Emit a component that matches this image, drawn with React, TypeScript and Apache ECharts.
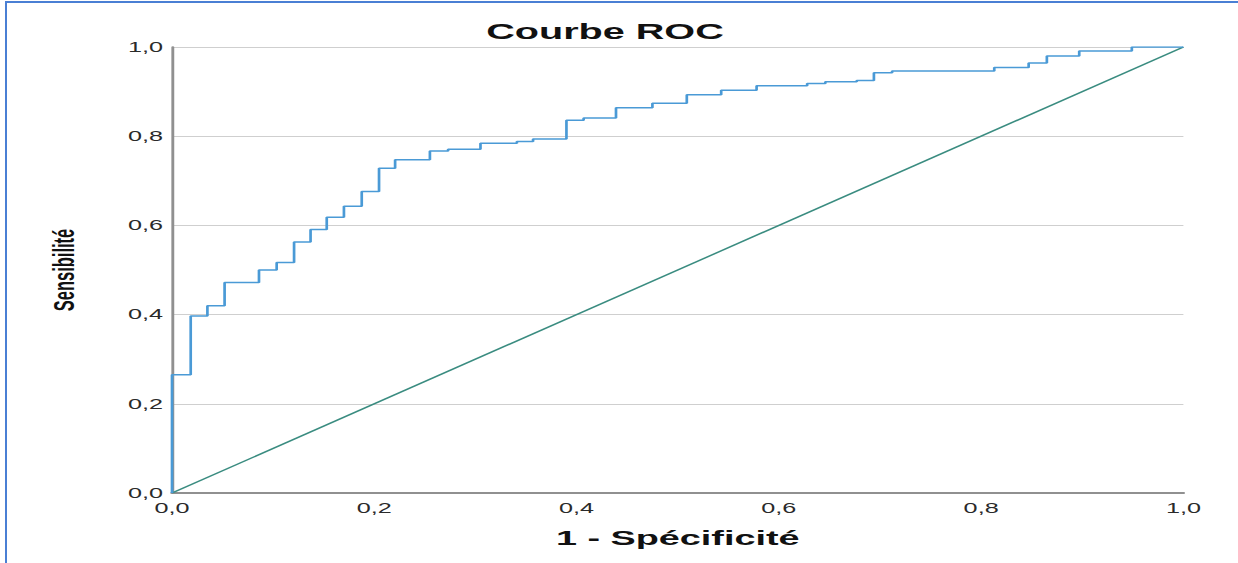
import React, { useEffect, useRef } from "react";
import * as echarts from "echarts";

// ROC curve corner points (1 - specificity, sensitivity), drawn as steps
const fpr = [0, 0, 0.0185, 0.035, 0.052, 0.086, 0.1035, 0.1207, 0.137, 0.153, 0.17, 0.1876, 0.2047, 0.2206, 0.255, 0.273, 0.305, 0.341, 0.357, 0.39, 0.407, 0.439, 0.475, 0.509, 0.543, 0.578, 0.628, 0.646, 0.677, 0.694, 0.712, 0.813, 0.847, 0.865, 0.897, 0.949, 1.0];
const tpr = [0, 0.265, 0.397, 0.42, 0.472, 0.5, 0.517, 0.563, 0.591, 0.618, 0.643, 0.676, 0.728, 0.747, 0.767, 0.771, 0.784, 0.788, 0.794, 0.836, 0.841, 0.864, 0.874, 0.893, 0.903, 0.913, 0.918, 0.922, 0.925, 0.942, 0.946, 0.954, 0.964, 0.98, 0.991, 1.0, 1.0];
// reference diagonal
const diagX = [0, 1];
const diagY = [0, 1];

const titleText = "Courbe ROC";
const xName = "1 - Spécificité";
const yName = "Sensibilité";

const STRETCH = 1.8;
const FULL_W = 1238;
const FULL_H = 563;
const FONT = "'Liberation Sans', Arial, sans-serif";

const fmt = (v: number) => v.toFixed(1).replace(".", ",");

export default function App() {
  const ref = useRef<HTMLDivElement>(null);
  useEffect(() => {
    if (!ref.current) return;
    const chart = echarts.init(ref.current, undefined, { renderer: "svg" });
    const W = FULL_W / STRETCH;
    chart.setOption({
      animation: false,
      backgroundColor: "#fff",
      graphic: [
        {
          type: "text",
          x: 605 / STRETCH,
          y: 31,
          style: {
            text: titleText,
            align: "center",
            verticalAlign: "middle",
            font: `bold 22px ${FONT}`,
            fill: "#111",
          },
        },
      ],
      grid: {
        left: 172 / STRETCH,
        right: W - 1183 / STRETCH,
        top: 47,
        bottom: FULL_H - 493,
        containLabel: false,
      },
      xAxis: {
        type: "value",
        min: 0,
        max: 1,
        interval: 0.2,
        name: xName,
        nameLocation: "middle",
        nameGap: 34,
        nameTextStyle: { fontFamily: FONT, fontWeight: "bold", fontSize: 21, color: "#111" },
        axisLine: { show: true, onZero: false, lineStyle: { color: "#909090", width: 2 } },
        axisTick: { show: false },
        splitLine: { show: false },
        axisLabel: { formatter: fmt, fontFamily: FONT, fontSize: 14, color: "#2a2a2a", margin: 8 },
      },
      yAxis: {
        type: "value",
        min: 0,
        max: 1,
        interval: 0.2,
        name: yName,
        nameLocation: "middle",
        nameRotate: 90,
        nameGap: 52,
        nameTextStyle: { fontFamily: FONT, fontWeight: "bold", fontSize: 16.5, color: "#111" },
        axisLine: { show: true, onZero: false, lineStyle: { color: "#909090", width: 1.6 } },
        axisTick: { show: false },
        splitLine: { show: true, lineStyle: { color: "#cfcfcf", width: 1 } },
        axisLabel: { formatter: fmt, fontFamily: FONT, fontSize: 14, color: "#2a2a2a", margin: 5 },
      },
      series: [
        {
          type: "line",
          data: diagX.map((x, i) => [x, diagY[i]]),
          symbol: "none",
          lineStyle: { color: "#3a8c80", width: 1.3 },
          z: 2,
        },
        {
          type: "line",
          step: "end",
          data: fpr.map((x, i) => [x, tpr[i]]),
          symbol: "none",
          lineStyle: { color: "#4a9ad6", width: 1.5 },
          z: 3,
        },
      ],
    });
    return () => chart.dispose();
  }, []);

  return (
    <div style={{ position: "fixed", left: 0, top: 0, width: FULL_W, height: FULL_H, background: "#fff", overflow: "hidden" }}>
      <div
        ref={ref}
        style={{
          position: "absolute",
          left: 0,
          top: 0,
          width: FULL_W / STRETCH,
          height: FULL_H,
          transform: `scaleX(${STRETCH})`,
          transformOrigin: "0 0",
        }}
      />
      <div
        style={{
          position: "absolute",
          left: 5,
          top: 1,
          width: FULL_W,
          height: FULL_H,
          borderLeft: "2px solid #4a7fd4",
          borderTop: "2px solid #4a7fd4",
          pointerEvents: "none",
        }}
      />
    </div>
  );
}
